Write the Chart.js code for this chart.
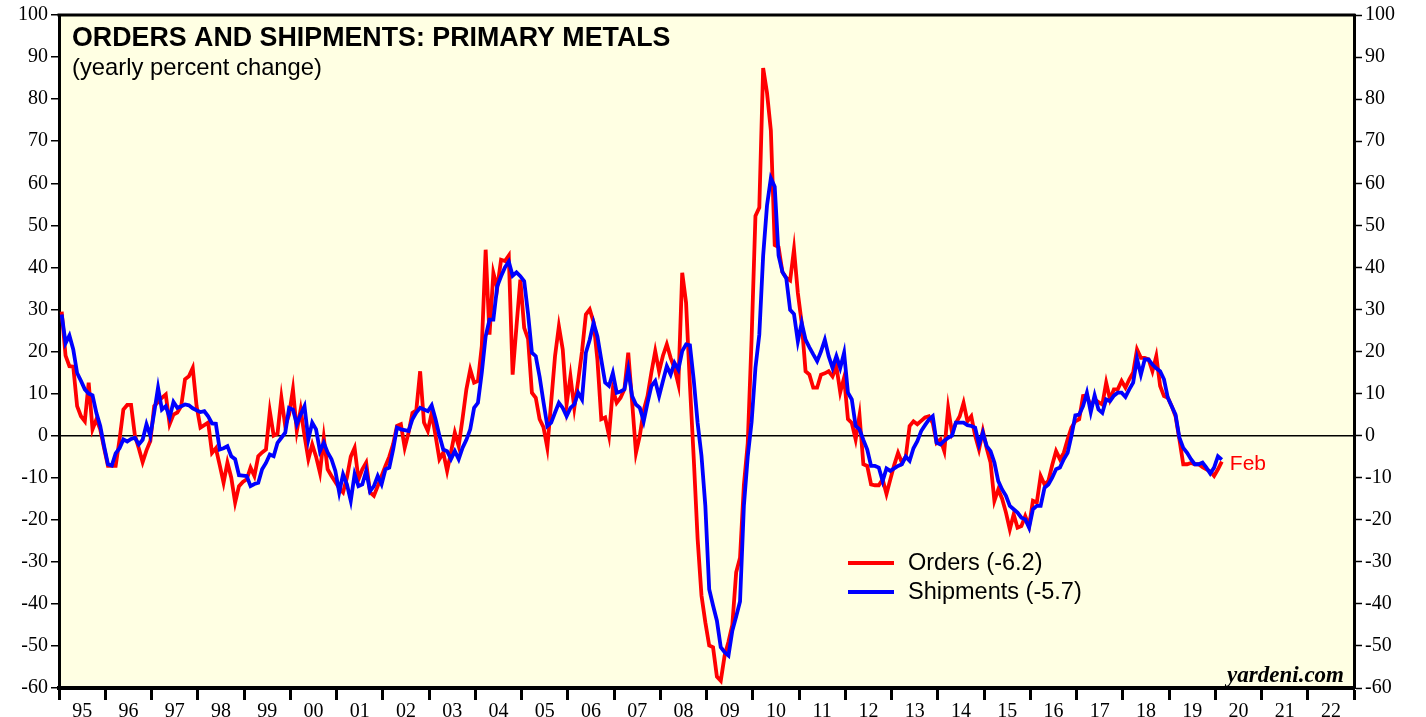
<!DOCTYPE html>
<html><head><meta charset="utf-8">
<script src="https://cdn.jsdelivr.net/npm/chart.js@4/dist/chart.umd.min.js"></script>
<style>html,body{margin:0;padding:0;background:#fff;overflow:hidden}#wrap{position:relative;width:1426px;height:717px}</style>
</head><body><div id="wrap"><canvas id="c" width="1426" height="717"></canvas></div>
<script>
const yearLabels = ['95','96','97','98','99','00','01','02','03','04','05','06','07','08','09','10','11','12','13','14','15','16','17','18','19','20','21','22'];
const yTickValues = [-60,-50,-40,-30,-20,-10,0,10,20,30,40,50,60,70,80,90,100];
const seriesNames = ['Orders','Shipments'];
const lastMonthLabel = 'Feb';

// monthly, Jan 1995 .. Feb 2020
const orders = [
 29.5, 19, 16.5, 16.4, 7, 4.6, 3.4, 12.6, 1.5, 3.9, 1.5, -3,
 -7.2, -7.2, -7.2, -1, 6.2, 7.3, 7.3, 0, -3, -6.3, -3.5, -1.3,
 7, 8, 9, 9.8, 2.7, 5, 5.5, 7, 13.4, 14.1, 16.1, 7,
 1.9, 2.5, 3.1, -4.1, -3, -7, -11.2, -6.4, -10, -15.9, -12, -11,
 -10.4, -7.6, -9.6, -4.9, -4, -3.3, 5.8, 0, 0.5, 9, 2.3, 5,
 11, 1.1, 6.2, 0, -5.6, -2.1, -5, -8.8, -0.5, -8, -9.6, -11,
 -12.5, -13.5, -10, -5, -2.9, -10.4, -8, -6.4, -13.5, -14.3, -12, -9.6,
 -7.2, -5, -2, 2.3, 2.7, -2.9, 0.7, 5.4, 6, 15.3, 3.1, 1.1,
 5.4, 0, -5.6, -4, -8.4, -4, 0.7, -2.5, 4, 11, 15.7, 12.6,
 13, 21.3, 44.2, 24, 38.7, 35.1, 41.8, 41.5, 42.8, 14.5, 26, 37.1,
 25.6, 23, 10.2, 9, 3.9, 2, -2.9, 8, 18.9, 26, 20.5, 7.4,
 14.1, 6.6, 13, 20, 28.8, 30, 27, 18, 3.9, 4.3, 0, 11,
 7.8, 9, 11, 19.7, 8, -4.1, 0, 6, 9.4, 15, 20.1, 15.3,
 19, 21.7, 18.5, 16, 12.2, 38.7, 31.6, 12, -5.6, -24.6, -38, -44.4,
 -49.9, -50.3, -57.3, -58.3, -52.3, -49, -45, -32.5, -29, -11.7, -1.8, 23,
 52.2, 54.2, 87.4, 81.5, 72.5, 45.3, 44.8, 38.9, 37.5, 36.9, 44.3, 33.9,
 26.8, 15.3, 14.5, 11.4, 11.4, 14.5, 14.8, 15.3, 14.1, 16.5, 10.3, 13.8,
 3.9, 3, -0.9, 4.8, -6.8, -7.2, -11.6, -11.8, -11.8, -10.4, -13.9, -10.4,
 -7, -4.1, -6.4, -5, 2.3, 3.4, 2.7, 3.5, 4.3, 4.6, 3, -1.7,
 -0.9, -3.7, 6.6, 0.7, 3, 4.6, 7.8, 3.4, 4.6, 0, -3.3, 1.1,
 -3, -6.4, -15.5, -12.8, -15, -18.3, -22.3, -18.7, -21.9, -21.5, -19.1, -21.5,
 -15.5, -15.9, -9.6, -11.6, -10.8, -7, -3.7, -5.6, -4.1, -0.9, 1.9, 3.4,
 3.9, 9.4, 9.5, 7, 8.6, 8, 7.4, 12.6, 8.6, 11, 11, 13,
 11.4, 13.4, 15, 20.5, 18.5, 18.5, 18.1, 15.3, 18.9, 11.8, 9.4, 9,
 7, 4.6, -0.9, -6.8, -6.8, -6.5, -6.8, -6.8, -7.5, -8, -8.5, -9.6,
 -8, -6.2
];
const shipments = [
 28.8, 22, 23.8, 20.5, 14.9, 13, 11, 10, 9.6, 5.4, 2.3, -2.5,
 -6.8, -7.1, -4.2, -3, -0.9, -1.4, -0.8, -0.5, -2.1, -1, 2.7, 0,
 5.5, 11.4, 6.2, 7, 4.3, 8, 6.6, 7, 7.4, 7.2, 6.5, 6,
 5.6, 5.8, 4.6, 2.9, 2.8, -3.3, -3, -2.5, -4.9, -5.6, -9.4, -9.5,
 -9.6, -12, -11.5, -11.2, -8, -6.5, -4.5, -4.9, -1.7, -0.5, 0.7, 6.6,
 6.2, 2.7, 5, 7, -0.9, 3.1, 1.5, -3.7, -1.7, -4, -5.6, -8.4,
 -13.5, -9.2, -11.6, -15.5, -9.2, -12, -11.6, -8.4, -13.2, -12, -9.6, -11.6,
 -8, -7.6, -3.3, 1.9, 1.5, 1.3, 1.1, 3.9, 5.5, 6.6, 6.2, 5.8,
 7.2, 3.9, 0, -3.3, -3.7, -5.6, -3.7, -5.6, -2.9, -1, 1.5, 6.6,
 7.8, 15, 23.6, 27.6, 27.6, 35.5, 37.9, 40, 41.4, 38, 38.8, 37.9,
 36.7, 29, 19.7, 18.9, 14, 8, 2.3, 3.1, 5.5, 7.8, 6.6, 4.6,
 6.6, 7.4, 10.2, 8.6, 19.7, 22.8, 26.8, 23.6, 18, 12.6, 11.8, 14.9,
 10.2, 10.5, 11, 15.7, 9.4, 7.4, 6.6, 3.4, 7.8, 11.8, 13, 9.4,
 13, 16.5, 14.5, 17.3, 15.7, 20.1, 21.7, 21.5, 13.1, 3, -4.8, -16.7,
 -36.5, -40.4, -44, -50.3, -51.5, -52.3, -46.4, -43, -39.4, -16.7, -5, 3.2,
 16.1, 24, 42.8, 54.7, 61.2, 59.2, 42.8, 38.9, 37.4, 29.9, 28.9, 22.4,
 26.8, 22.8, 21, 19.3, 17.7, 20, 22.8, 18.9, 16.1, 18.9, 16.1, 19.7,
 10.2, 8.6, 2.3, 1.5, -1, -3.3, -7.2, -7.2, -7.6, -10.8, -7.8, -8.4,
 -7.8, -7.2, -6.8, -5, -6, -3, -1.3, 1.1, 2.5, 3.8, 4.6, -1.7,
 -2.1, -1.2, -0.5, 0, 3.1, 3.1, 3.1, 2.5, 2.3, 1.9, -2.1, 0.7,
 -2.5, -3.7, -6.4, -10.8, -12.8, -14.3, -16.7, -17.5, -18.3, -19.5, -19.9, -21.9,
 -17.5, -16.7, -16.7, -12.4, -11.6, -10, -8, -7.6, -5.6, -4.1, 0, 4.8,
 5, 7, 10.2, 5.6, 9.6, 6.2, 5.4, 8.6, 8.2, 9.5, 10.2, 10.2,
 9.2, 11, 12.6, 18.3, 14.5, 18.1, 18.1, 16.9, 16, 15.3, 13.4, 9,
 7, 5, -0.5, -2.9, -4.1, -5.6, -6.8, -6.8, -6.4, -7.6, -9, -7.6,
 -4.9, -5.7
];

const MONTH_OFFSET = 0.7;
const toPoints = arr => arr.map((v, i) => ({x: i + MONTH_OFFSET, y: v}));
const serif = '"Liberation Serif", "Times New Roman", serif';
const sans = '"Liberation Sans", Arial, sans-serif';

const bgPlugin = {
  id: 'bg',
  beforeDraw(chart) {
    const {ctx, chartArea: a} = chart;
    ctx.save();
    ctx.fillStyle = '#ffffe3';
    ctx.fillRect(a.left, a.top, a.right - a.left, a.bottom - a.top);
    ctx.restore();
  }
};

const overlayPlugin = {
  id: 'overlay',
  afterDraw(chart) {
    const {ctx, chartArea: a} = chart;
    ctx.save();
    ctx.strokeStyle = '#000';
    ctx.lineWidth = 3;
    ctx.beginPath(); ctx.moveTo(a.left - 1.5, a.top); ctx.lineTo(a.right + 1.5, a.top); ctx.stroke();
    ctx.fillStyle = '#000';
    ctx.textBaseline = 'alphabetic';
    ctx.textAlign = 'left';
    ctx.font = 'bold 26.8px ' + sans;
    ctx.fillText('ORDERS AND SHIPMENTS: PRIMARY METALS', 72, 46);
    ctx.font = '23.8px ' + sans;
    ctx.fillText('(yearly percent change)', 72, 75);
    const ds = chart.data.datasets;
    const legY = [563, 592];
    ds.forEach((d, k) => {
      ctx.strokeStyle = d.borderColor;
      ctx.lineWidth = 4;
      ctx.beginPath(); ctx.moveTo(848, legY[k]); ctx.lineTo(894, legY[k]); ctx.stroke();
      ctx.fillStyle = '#000';
      ctx.font = '23.5px ' + sans;
      ctx.textBaseline = 'middle';
      ctx.fillText(d.legendText, 908, legY[k] + 1);
    });
    const xs = chart.scales.x, ys = chart.scales.y;
    const lx = xs.getPixelForValue(orders.length - 1 + MONTH_OFFSET);
    const ly = ys.getPixelForValue(orders[orders.length - 1]);
    ctx.fillStyle = '#ff0000';
    ctx.font = '21px ' + sans;
    ctx.textBaseline = 'middle';
    ctx.fillText(lastMonthLabel, lx + 8, ly + 2);
    ctx.fillStyle = '#000';
    ctx.font = 'italic bold 23px ' + serif;
    ctx.textAlign = 'right';
    ctx.textBaseline = 'alphabetic';
    ctx.fillText('yardeni.com', a.right - 10, 682);
    ctx.restore();
  }
};

const yTicksCommon = {
  autoSkip: false,
  color: '#000',
  font: {family: serif, size: 20},
  padding: 3
};

new Chart(document.getElementById('c').getContext('2d'), {
  type: 'line',
  data: {
    datasets: [
      {label: seriesNames[0], legendText: seriesNames[0] + ' (' + orders[orders.length - 1] + ')',
       data: toPoints(orders), borderColor: '#ff0000', borderWidth: 3.8, pointRadius: 0, tension: 0, order: 1},
      {label: seriesNames[1], legendText: seriesNames[1] + ' (' + shipments[shipments.length - 1] + ')',
       data: toPoints(shipments), borderColor: '#0000ff', borderWidth: 3.8, pointRadius: 0, tension: 0, order: 0}
    ]
  },
  options: {
    responsive: false,
    animation: false,
    devicePixelRatio: 1,
    layout: {padding: {top: 14, left: 0, right: 0, bottom: 0}},
    plugins: {legend: {display: false}, tooltip: {enabled: false}, title: {display: false}},
    scales: {
      x: {
        type: 'linear', min: 0, max: yearLabels.length * 12, position: 'bottom',
        afterBuildTicks: s => {
          const t = [];
          for (let k = 0; k <= yearLabels.length; k++) {
            t.push({value: k * 12});
            if (k < yearLabels.length) t.push({value: k * 12 + 6});
          }
          s.ticks = t;
        },
        afterFit: s => { s.height = 29; },
        ticks: {
          autoSkip: false, maxRotation: 0, minRotation: 0, padding: 0, color: '#000',
          font: {family: serif, size: 20},
          callback: v => (v % 12 === 6 ? yearLabels[(v - 6) / 12] : '')
        },
        grid: {
          drawOnChartArea: false, drawTicks: true, tickLength: 12, tickWidth: 3,
          tickColor: c => (c.tick && c.tick.value % 12 === 0) ? '#000' : 'rgba(0,0,0,0)'
        },
        border: {display: true, color: '#000', width: 4}
      },
      y: {
        position: 'left', min: -60, max: 100,
        afterBuildTicks: s => { s.ticks = yTickValues.map(v => ({value: v})); },
        afterFit: s => { s.width = 59; },
        ticks: yTicksCommon,
        grid: {
          drawOnChartArea: true, lineWidth: 1.5, tickLength: 8, tickWidth: 1.5, tickColor: '#000',
          color: c => (c.tick && c.tick.value === 0) ? '#000' : 'rgba(0,0,0,0)'
        },
        border: {display: true, color: '#000', width: 3}
      },
      y2: {
        position: 'right', min: -60, max: 100,
        afterBuildTicks: s => { s.ticks = yTickValues.map(v => ({value: v})); },
        afterFit: s => { s.width = 72; },
        ticks: yTicksCommon,
        grid: {drawOnChartArea: false, tickLength: 8, tickWidth: 1.5, tickColor: '#000'},
        border: {display: true, color: '#000', width: 3}
      }
    }
  },
  plugins: [bgPlugin, overlayPlugin]
});
</script>
</body></html>
